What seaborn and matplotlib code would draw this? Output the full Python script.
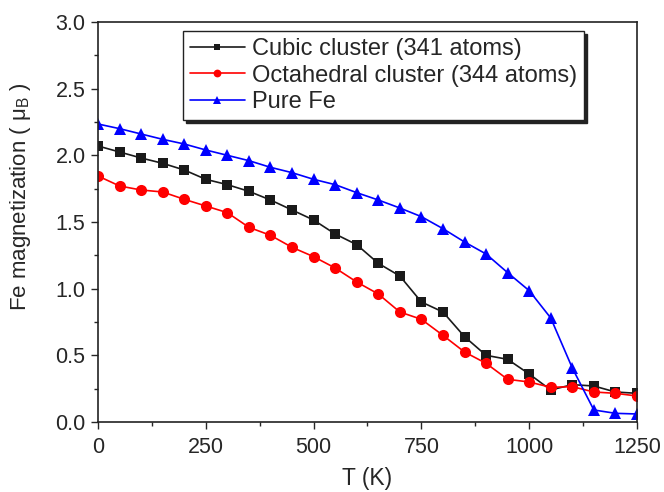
import numpy as np
import pandas as pd
import seaborn as sns
import matplotlib.pyplot as plt
from matplotlib.ticker import MultipleLocator

# 資料 (溫度 T, 磁化強度)
temps = list(range(0, 1251, 50))
cubic = [2.07, 2.025, 1.98, 1.94, 1.89, 1.82, 1.78, 1.73, 1.665, 1.59, 1.515, 1.41, 1.33,
         1.19, 1.095, 0.90, 0.825, 0.64, 0.50, 0.47, 0.36, 0.24, 0.28, 0.27, 0.225, 0.215]
octa = [1.845, 1.77, 1.74, 1.725, 1.67, 1.62, 1.57, 1.46, 1.40, 1.31, 1.24, 1.155, 1.05,
        0.96, 0.825, 0.77, 0.65, 0.525, 0.44, 0.32, 0.30, 0.26, 0.265, 0.225, 0.215, 0.195]
pure_fe = [2.235, 2.20, 2.16, 2.12, 2.085, 2.04, 2.00, 1.96, 1.91, 1.87, 1.82, 1.78, 1.72,
           1.665, 1.605, 1.54, 1.45, 1.35, 1.26, 1.12, 0.985, 0.78, 0.405, 0.09, 0.065, 0.06]
labels = ["Cubic cluster (341 atoms)", "Octahedral cluster (344 atoms)", "Pure Fe"]

sns.set_style("ticks")
plt.rcParams["font.family"] = ["Liberation Sans", "DejaVu Sans"]
plt.rcParams["mathtext.fontset"] = "custom"
plt.rcParams["mathtext.rm"] = "Liberation Sans"
plt.rcParams["mathtext.it"] = "Liberation Sans:italic"

fig = plt.figure(figsize=(6.64, 4.92), dpi=100)
ax = fig.add_axes([0.1476, 0.1423, 0.8117, 0.813])

styles = [(cubic, "#1a1a1a", "s", 6.8), (octa, "#ff0000", "o", 8), (pure_fe, "#0000ff", "^", 8.3)]
for (vals, color, marker, ms), label in zip(styles, labels):
    df = pd.DataFrame({"T": temps, "M": vals})
    sns.lineplot(data=df, x="T", y="M", ax=ax, color=color, marker=marker,
                 markersize=ms, markeredgewidth=0, linewidth=1.2, label=label)

ax.set_xlim(0, 1250)
ax.set_ylim(0, 3.0)
ax.xaxis.set_major_locator(MultipleLocator(250))
ax.xaxis.set_minor_locator(MultipleLocator(125))
ax.yaxis.set_major_locator(MultipleLocator(0.5))
ax.yaxis.set_minor_locator(MultipleLocator(0.25))
ax.yaxis.set_major_formatter(plt.FormatStrFormatter("%.1f"))
ax.tick_params(which="major", direction="out", length=5, width=1, labelsize=15.5)
ax.tick_params(axis="x", which="major", pad=5.5)
ax.tick_params(axis="y", which="major", pad=4)
ax.tick_params(which="minor", direction="out", length=3, width=1)
for s in ax.spines.values():
    s.set_linewidth(1.2)
    s.set_color("#222222")

ax.set_xlabel("T (K)", fontsize=16.5, labelpad=7)
ax.set_ylabel("Fe magnetization ( μ$_\\mathrm{B}$ )", fontsize=16)
ax.yaxis.set_label_coords(-0.121, 0.5625)

leg = ax.legend(loc="upper left", bbox_to_anchor=(0.158, 0.978), fontsize=17,
                frameon=True, fancybox=False, shadow={"color": "#222222", "alpha": 1},
                markerscale=0.7, handlelength=2.3, borderpad=0.3, labelspacing=0.2,
                handletextpad=0.3, borderaxespad=0)
leg.get_frame().set_edgecolor("#222222")
leg.get_frame().set_linewidth(1)

plt.savefig("out.png", dpi=100)
